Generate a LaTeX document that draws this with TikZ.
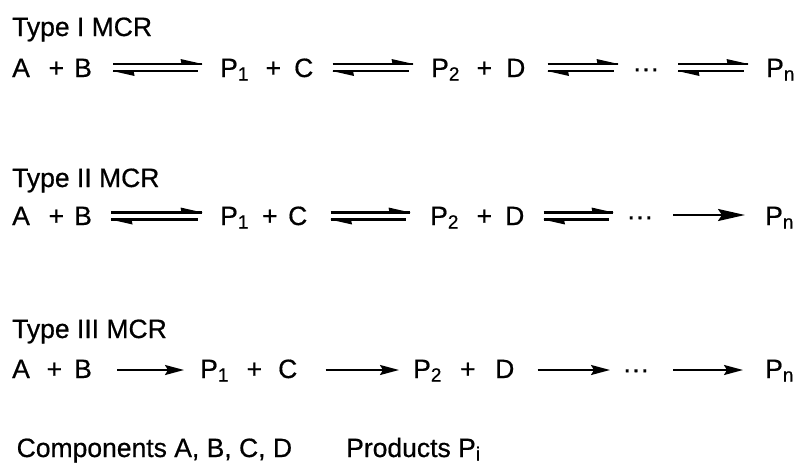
\documentclass[tikz,border=0pt]{standalone}
\usepackage{fontspec}
\setmainfont[FakeBold=0.6]{Liberation Sans}
\usetikzlibrary{calc,arrows.meta}
\newcommand\Sb[1]{\raisebox{-3.5pt}{\fontsize{19}{19}\selectfont #1}}
\newcommand\EqArr[2]{%
  \coordinate (s) at #1; \coordinate (e) at #2;
  \draw[eqline] ($(s)+(0,-3.5)$) -- ($(e)+(0,-3.5)$);
  \fill ($(e)+(0.5,-3.5)$) -- ++(-22,-5) -- ++(1,5) -- cycle;
  \draw[eqline] ($(s)+(0,3.5)$) -- ($(e)+(-4,3.5)$);
  \fill ($(s)+(-0.5,3.5)$) -- ++(22,5) -- ++(-1,-5) -- cycle;}
\begin{document}
\begin{tikzpicture}[x=1pt,y=-1pt,
  tok/.style={inner sep=0pt, anchor=base west, font=\fontsize{26.5}{30}\selectfont},
  dotsnode/.style={inner sep=0pt, anchor=base, font=\fontsize{26.5}{30}\selectfont},
  eqline/.style={line width=2.2pt},
  fwd/.style={line width=2pt, -{Stealth[length=19pt,width=10pt,inset=3pt]}},
  fwdbig/.style={line width=2.2pt, -{Stealth[length=27pt,width=12pt,inset=4pt]}},
]
\useasboundingbox (0,0) rectangle (800,471);
% ---------- Type I ----------
\node[tok] (t1) at (12,36) {Type I MCR};
\node[tok] (a1) at (12,77) {A};
\node[tok] (pa1) at (48.5,77) {+};
\node[tok] (b1) at (74,77) {B};
\node[tok] (pp11) at (220,77) {P\Sb{1}};
\node[tok] (pb1) at (265.5,77) {+};
\node[tok] (c1) at (294,77) {C};
\node[tok] (pp21) at (431,77) {P\Sb{2}};
\node[tok] (pc1) at (476.5,77) {+};
\node[tok] (d1) at (506,77) {D};
\node[dotsnode] (dt1) at (646,77) {···};
\node[tok] (pn1) at (766,77) {P\Sb{n}};
\EqArr{($(b1.base east)+(21,-9.5)$)}{($(pp11.base west)+(-18,-9.5)$)}
\EqArr{($(c1.base east)+(19,-9.5)$)}{($(pp21.base west)+(-18,-9.5)$)}
\EqArr{($(d1.base east)+(22,-9.5)$)}{($(dt1.base)+(-28,-9.5)$)}
\EqArr{($(dt1.base)+(32,-9.5)$)}{($(pn1.base west)+(-18,-9.5)$)}
% ---------- Type II ----------
\node[tok] (t2) at (12,187) {Type II MCR};
\node[tok] (a2) at (12,225) {A};
\node[tok] (pa2) at (48.5,225) {+};
\node[tok] (b2) at (74,225) {B};
\node[tok] (pp12) at (220,225) {P\Sb{1}};
\node[tok] (pb2) at (262,225) {+};
\node[tok] (c2) at (288,225) {C};
\node[tok] (pp22) at (430,225) {P\Sb{2}};
\node[tok] (pc2) at (476.5,225) {+};
\node[tok] (d2) at (505,225) {D};
\node[dotsnode] (dt2) at (640,225) {···};
\node[tok] (pn2) at (765,225) {P\Sb{n}};
\EqArr{($(b2.base east)+(19,-9)$)}{($(pp12.base west)+(-18,-9)$)}
\EqArr{($(c2.base east)+(23,-9)$)}{($(pp22.base west)+(-20,-9)$)}
\EqArr{($(d2.base east)+(19,-9)$)}{($(dt2.base)+(-27,-9)$)}
\draw[fwdbig] ($(dt2.base)+(33,-10)$) -- ($(pn2.base west)+(-20,-10)$);
% ---------- Type III ----------
\node[tok] (t3) at (12,338) {Type III MCR};
\node[tok] (a3) at (12,378) {A};
\node[tok] (pa3) at (46.5,378) {+};
\node[tok] (b3) at (74,378) {B};
\node[tok] (pp13) at (200,378) {P\Sb{1}};
\node[tok] (pb3) at (246.5,378) {+};
\node[tok] (c3) at (278,378) {C};
\node[tok] (pp23) at (413,378) {P\Sb{2}};
\node[tok] (pc3) at (460,378) {+};
\node[tok] (d3) at (495,378) {D};
\node[dotsnode] (dt3) at (636,378) {···};
\node[tok] (pn3) at (765,378) {P\Sb{n}};
\draw[fwd] ($(b3.base east)+(25,-8)$) -- ($(pp13.base west)+(-16,-8)$);
\draw[fwd] ($(c3.base east)+(28,-8)$) -- ($(pp23.base west)+(-14,-8)$);
\draw[fwd] ($(d3.base east)+(23,-8)$) -- ($(dt3.base)+(-26,-8)$);
\draw[fwd] ($(dt3.base)+(37,-8)$) -- ($(pn3.base west)+(-22,-8)$);
% ---------- legend ----------
\node[tok] (comp) at (16.5,457) {Components A, B, C, D};
\node[tok] (prod) at (346,457) {Products P\Sb{i}};
\end{tikzpicture}
\end{document}
